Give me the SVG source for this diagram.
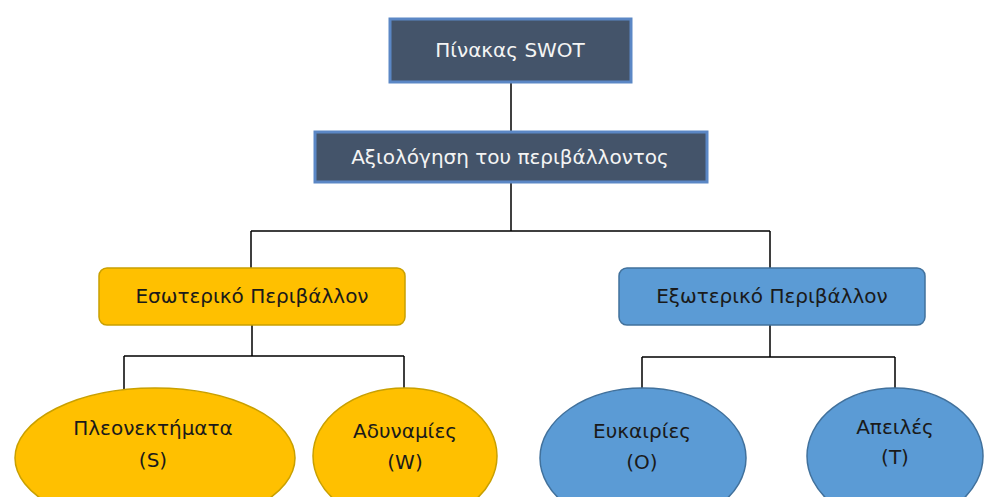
<svg xmlns="http://www.w3.org/2000/svg" width="988" height="497" viewBox="0 0 988 497">
  <style>
    .dark { fill: #44546A; stroke: #5B87C5; stroke-width: 3; }
    .gold { fill: #FFC000; stroke: #C9A000; stroke-width: 1.5; }
    .blue { fill: #5B9BD5; stroke: #41719C; stroke-width: 1.5; }
    .wire { fill: none; stroke: #000; stroke-width: 1.5; }
    text { font-family: "DejaVu Sans", "Noto Sans", sans-serif; font-size: 20px; text-anchor: middle; }
    .light { fill: #F4F4F4; }
    .ink { fill: #1a1a1a; }
  </style>

  <g id="connectors">
    <path class="wire" d="M511 82 V131"/>
    <path class="wire" d="M511 182 V231" stroke-width="2.5"/>
    <path class="wire" d="M251 231 H770 M251 231 V268 M770 231 V268"/>
    <path class="wire" d="M252 325 V356 M124 356 H404 M124 356 V389 M404 356 V389"/>
    <path class="wire" d="M770 325 V357 M642 357 H895 M642 357 V389 M895 357 V389"/>
  </g>

  <g id="swot">
    <rect class="dark" x="390" y="19" width="241" height="63"/>
    <text class="light" x="510" y="57">Πίνακας SWOT</text>
  </g>

  <g id="environment">
    <rect class="dark" x="315" y="132" width="392" height="50"/>
    <text class="light" x="510" y="164">Αξιολόγηση του περιβάλλοντος</text>
  </g>

  <g id="internal">
    <rect class="gold" x="99" y="268" width="306" height="57" rx="8"/>
    <text class="ink" x="252" y="303">Εσωτερικό Περιβάλλον</text>
  </g>

  <g id="external">
    <rect class="blue" x="619" y="268" width="306" height="57" rx="8"/>
    <text class="ink" x="772" y="303">Εξωτερικό Περιβάλλον</text>
  </g>

  <g id="strengths">
    <ellipse class="gold" cx="155" cy="458" rx="140" ry="70"/>
    <text class="ink" x="153" y="435">Πλεονεκτήματα</text>
    <text class="ink" x="153" y="467">(S)</text>
  </g>

  <g id="weaknesses">
    <ellipse class="gold" cx="405" cy="456" rx="92" ry="68"/>
    <text class="ink" x="405" y="438">Αδυναμίες</text>
    <text class="ink" x="405" y="469">(W)</text>
  </g>

  <g id="opportunities">
    <ellipse class="blue" cx="643" cy="458" rx="103" ry="70"/>
    <text class="ink" x="642" y="438">Ευκαιρίες</text>
    <text class="ink" x="642" y="469">(O)</text>
  </g>

  <g id="threats">
    <ellipse class="blue" cx="895" cy="456" rx="88" ry="68"/>
    <text class="ink" x="895" y="434">Απειλές</text>
    <text class="ink" x="895" y="464">(T)</text>
  </g>
</svg>
